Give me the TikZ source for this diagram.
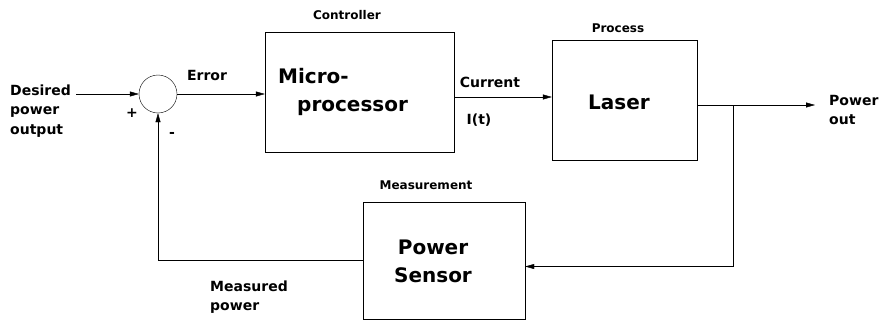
\documentclass[tikz,border=0pt]{standalone}
\usepackage{fontspec}
\setmainfont{DejaVu Sans}
\usepackage{tikz}
\usetikzlibrary{arrows.meta,calc,positioning}
\tikzset{
    -{Triangle[length=9pt,width=5pt]},auto,line width=0.9pt,x=1pt,y=-1pt,
    block/.style ={rectangle, draw, inner sep=0pt},
    sum/.style = {circle, draw, minimum size=38pt, inner sep=0pt},
    big/.style = {font=\bfseries\fontsize{20}{28}\selectfont, align=left, inner sep=0pt},
    mid/.style = {font=\bfseries\fontsize{14}{19.5}\selectfont, align=left, inner sep=0pt},
    small/.style = {font=\bfseries\fontsize{12}{14}\selectfont, inner sep=0pt}
}
\begin{document}
\begin{tikzpicture}
    \useasboundingbox (0,0) rectangle (882,321);
    \node[sum] (0) at (158,94) {};
    \node[block, minimum width=189pt, minimum height=120pt] (1) at (359.5,92) {};
    \node[block, minimum width=145pt, minimum height=120pt] (2) at (624.5,100) {};
    \node[block, minimum width=162pt, minimum height=117pt] (3) at (444,260.5) {};

    \node[big, anchor=west] (1t) at (278,92) {Micro-\\\hspace*{19pt}processor};
    \node[big] (2t) at (619,102) {Laser};
    \node[big, align=center] (3t) at (433,261) {Power\\Sensor};
    \node[small] (1l) at (347,15) {Controller};
    \node[small] (2l) at (618,28) {Process};
    \node[small] (3l) at (426,185) {Measurement};

    \node[mid, anchor=west] (d) at (10,111) {Desired\\power\\output};
    \node[mid, anchor=west] (p) at (829,110) {Power\\out};
    \node[mid, anchor=west] (m) at (210,297) {Measured\\power};
    \node[mid] (e) at (207,75) {Error};
    \node[mid] (c) at (490,82) {Current};
    \node[mid] (i) at (479,120) {I(t)};
    \node[mid] (plus) at (132,113) {+};
    \node[mid] (minus) at (172,135) {-};

    \coordinate (in) at (76,94);
    \coordinate (out) at (815,105);
    \coordinate (br) at (733,105);

    \draw (in) -- (0.west);
    \draw (0.east) -- (0.east -| 1.west);
    \draw (1.east |- 0,97) -- (2.west |- 0,97);
    \draw (br -| 2.east) -- (out);
    \draw (br) |- ($(3.east)+(0,6)$);
    \draw (3.west) -| (0.south);
\end{tikzpicture}
\end{document}
